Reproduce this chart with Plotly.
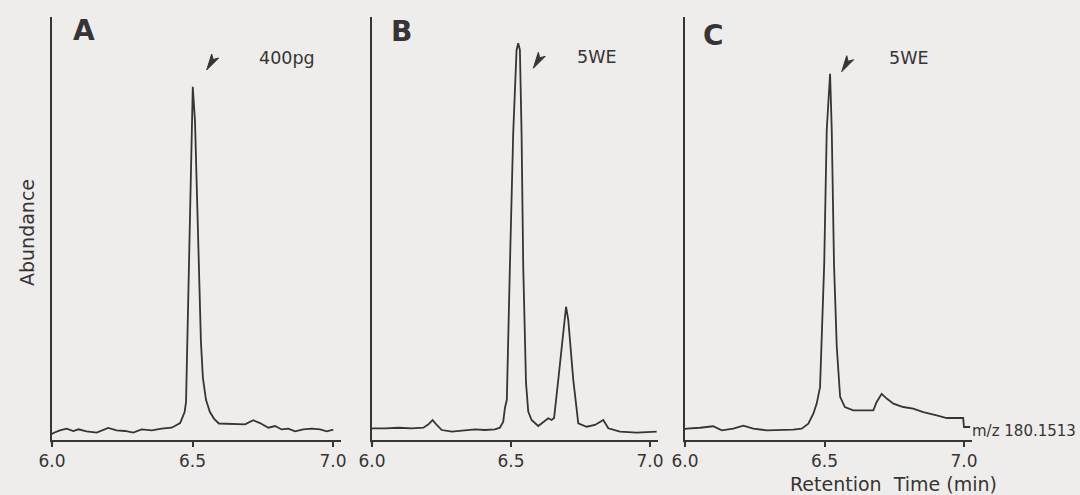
import plotly.graph_objects as go

# ---------------- data (retention time in min, abundance in arbitrary units 0-100) ----------------
time_a = [6.000, 6.005, 6.028, 6.052, 6.076, 6.094, 6.123, 6.159, 6.200, 6.230, 6.260, 6.289,
          6.319, 6.355, 6.390, 6.426, 6.456, 6.463, 6.472, 6.477, 6.482, 6.489, 6.496, 6.501,
          6.509, 6.516, 6.523, 6.530, 6.537, 6.548, 6.562, 6.577, 6.594, 6.616, 6.651, 6.687,
          6.716, 6.740, 6.770, 6.794, 6.817, 6.841, 6.865, 6.894, 6.924, 6.954, 6.978, 7.001]
abund_a = [1.4, 1.65, 2.29, 2.67, 2.13, 2.53, 2.06, 1.73, 2.84, 2.29, 2.13, 1.73,
           2.53, 2.29, 2.67, 2.91, 4.0, 5.0, 6.6, 9.0, 25.5, 49.0, 70.4, 83.5,
           75.2, 56.3, 37.4, 23.2, 14.7, 9.5, 6.6, 5.0, 3.9, 3.85, 3.85, 3.7,
           4.66, 4.0, 2.9, 3.3, 2.5, 2.67, 2.06, 2.53, 2.67, 2.53, 2.06, 2.43]

time_b = [6.000, 6.005, 6.047, 6.095, 6.143, 6.185, 6.203, 6.218, 6.233, 6.251, 6.287, 6.335,
          6.371, 6.406, 6.442, 6.460, 6.472, 6.478, 6.485, 6.496, 6.508, 6.520, 6.526, 6.532,
          6.538, 6.544, 6.554, 6.562, 6.574, 6.598, 6.616, 6.634, 6.646, 6.655, 6.670, 6.688,
          6.698, 6.706, 6.724, 6.742, 6.772, 6.802, 6.832, 6.850, 6.892, 6.952, 7.024]
abund_b = [2.7, 2.77, 2.77, 2.9, 2.77, 2.9, 3.7, 4.7, 3.55, 2.36, 1.96, 2.2,
           2.53, 2.36, 2.53, 2.9, 4.33, 7.5, 9.5, 41.0, 72.6, 92.2, 93.8, 92.2,
           72.6, 41.0, 13.5, 6.7, 4.73, 3.3, 4.33, 5.13, 4.73, 5.2, 14.2, 26.0,
           31.5, 28.4, 14.2, 3.95, 3.14, 3.55, 4.73, 2.77, 1.96, 1.73, 1.96]

time_c = [6.000, 6.006, 6.054, 6.101, 6.132, 6.173, 6.209, 6.245, 6.293, 6.341, 6.388, 6.418,
          6.442, 6.460, 6.472, 6.484, 6.490, 6.499, 6.508, 6.520, 6.526, 6.534, 6.544, 6.556,
          6.573, 6.603, 6.675, 6.687, 6.705, 6.723, 6.747, 6.782, 6.818, 6.854, 6.902, 6.938,
          6.997, 7.000, 7.022]
abund_c = [2.6, 2.67, 2.9, 3.24, 2.29, 2.67, 3.38, 2.67, 2.29, 2.29, 2.43, 2.67,
           3.85, 6.2, 8.6, 12.5, 26.0, 41.7, 73.3, 86.6, 73.3, 41.7, 22.0, 10.2,
           7.8, 7.0, 7.0, 9.0, 10.9, 9.8, 8.6, 7.8, 7.4, 6.6, 5.8, 5.2,
           5.2, 3.07, 3.07]

panel_labels = ["A", "B", "C"]
peak_labels = ["400pg", "5WE", "5WE"]
tick_vals = [6.0, 6.5, 7.0]
tick_text = ["6.0", "6.5", "7.0"]
ion_label = "m/z 180.1513"
x_title = "Retention  Time (min)"
y_title = "Abundance"

# ---------------- layout helpers ----------------
W, H = 1080, 495
BG = "#eeedeb"
INK = "#363434"
FONT = "DejaVu Sans"

def px(x):
    return x / W

def py(y):
    return 1 - y / H

# pixel positions of 6.0 and pixel width of one minute for each panel
panel_x0 = [52, 372, 685]
panel_scale = [281, 278, 279]
x_max = 7.03
axis_y = 440
top_y = 17

fig = go.Figure()

series = [(time_a, abund_a), (time_b, abund_b), (time_c, abund_c)]
for i, (t, a) in enumerate(series):
    sfx = "" if i == 0 else str(i + 1)
    fig.add_trace(go.Scatter(x=t, y=a, mode="lines", xaxis="x" + sfx, yaxis="y" + sfx,
                             line=dict(color=INK, width=1.8), showlegend=False,
                             hoverinfo="skip"))

layout = dict(width=W, height=H, autosize=False, margin=dict(l=0, r=0, t=0, b=0, pad=0),
              paper_bgcolor=BG, plot_bgcolor=BG, showlegend=False,
              font=dict(family=FONT, color=INK))

for i in range(3):
    sfx = "" if i == 0 else str(i + 1)
    x0 = panel_x0[i]
    x1 = x0 + panel_scale[i] * (x_max - 6.0)
    layout["xaxis" + sfx] = dict(
        domain=[px(x0), px(x1)], range=[6.0, x_max], anchor="y" + sfx,
        showline=True, linecolor=INK, linewidth=1.5,
        ticks="outside", ticklen=5, tickwidth=1.5, tickcolor=INK,
        tickvals=tick_vals, ticktext=tick_text,
        tickfont=dict(family=FONT, size=17, color=INK),
        showgrid=False, zeroline=False, fixedrange=True, automargin=False)
    layout["yaxis" + sfx] = dict(
        domain=[py(axis_y), py(top_y)], range=[0, (axis_y - top_y) / 4.23],
        anchor="x" + sfx, showline=True, linecolor=INK, linewidth=2.2,
        ticks="", showticklabels=False, showgrid=False, zeroline=False,
        fixedrange=True, automargin=False)

fig.update_layout(**layout)

annotations = []
letter_pos = [(84, 31), (401, 32), (713, 35)]
peak_txt_pos = [(287, 58), (597, 57), (909, 58)]
arrow_tip = [(206.7, 70), (533.3, 68.3), (841.7, 71.7)]
for i in range(3):
    lx, ly = letter_pos[i]
    annotations.append(dict(x=px(lx), y=py(ly), xref="paper", yref="paper",
                            text="<b>" + panel_labels[i] + "</b>", showarrow=False,
                            font=dict(family=FONT, size=28, color=INK),
                            xanchor="center", yanchor="middle"))
    tx, ty = peak_txt_pos[i]
    annotations.append(dict(x=px(tx), y=py(ty), xref="paper", yref="paper",
                            text=peak_labels[i], showarrow=False,
                            font=dict(family=FONT, size=17.5, color=INK),
                            xanchor="center", yanchor="middle"))

annotations.append(dict(x=px(27), y=py(233), xref="paper", yref="paper",
                        text=y_title, showarrow=False, textangle=-90,
                        font=dict(family=FONT, size=19, color=INK),
                        xanchor="center", yanchor="middle"))
annotations.append(dict(x=px(893), y=py(484), xref="paper", yref="paper",
                        text=x_title, showarrow=False,
                        font=dict(family=FONT, size=19, color=INK),
                        xanchor="center", yanchor="middle"))
annotations.append(dict(x=px(970), y=py(431), xref="paper", yref="paper",
                        text=ion_label, showarrow=False,
                        font=dict(family=FONT, size=15, color=INK),
                        xanchor="left", yanchor="middle"))

shapes = []
# small wedge-shaped pointer marks above each main peak
for (tx, ty) in arrow_tip:
    pts = [(tx, ty), (tx + 5, ty - 16), (tx + 6.5, ty - 10.5), (tx + 12, ty - 12)]
    path = "M " + " L ".join(f"{px(a):.5f},{py(b):.5f}" for a, b in pts) + " Z"
    shapes.append(dict(type="path", xref="paper", yref="paper", path=path,
                       fillcolor=INK, line=dict(color=INK, width=1)))
# y-axis lines run a few pixels past the time axis, as in the original
for x0 in panel_x0:
    shapes.append(dict(type="line", xref="paper", yref="paper",
                       x0=px(x0), x1=px(x0), y0=py(axis_y), y1=py(axis_y + 4),
                       line=dict(color=INK, width=2.2)))

fig.update_layout(annotations=annotations, shapes=shapes)

fig.write_html("out.html", config={"responsive": False, "displayModeBar": False})
